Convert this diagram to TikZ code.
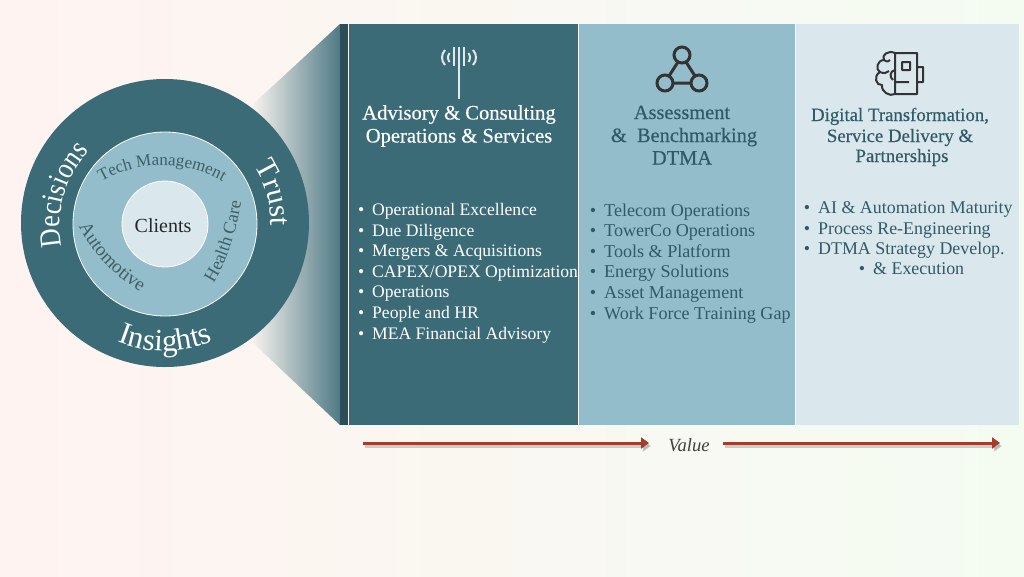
\documentclass[tikz,border=0pt]{standalone}
\usepackage{fontspec}
\setmainfont{Liberation Serif}
\newfontfamily\ringf[FakeStretch=0.87]{Liberation Serif}
\newfontfamily\ttlf[FakeBold=0.35]{Liberation Serif}
\usetikzlibrary{arrows.meta,decorations.text}
\definecolor{bgL}{HTML}{FFF3F1}
\definecolor{bgR}{HTML}{F4FCF2}
\definecolor{tealD}{HTML}{3C6B78}
\definecolor{tealDD}{HTML}{2A4F58}
\definecolor{tealM}{HTML}{93BDCB}
\definecolor{tealL}{HTML}{DAE8ED}
\definecolor{txtM}{HTML}{2F5A66}
\definecolor{txtRing}{HTML}{3F5F66}
\definecolor{icoD}{HTML}{333333}
\definecolor{rust}{HTML}{A43E2A}
\newcommand\fsz[1]{\fontsize{#1}{#1}\selectfont}
\newcommand\arctext[6]{% font, colour, text, radius, start, end
  \path[decorate,decoration={text along path,text align={center},
    text={|#1\color{#2}|#3}}]
    (ctr) ++(#5:#4pt) arc[start angle=#5,end angle=#6,radius=#4pt];}
\newcommand\curvetext[4]{% font, colour, text, path
  \path[decorate,decoration={text along path,text align={center},
    text={|#1\color{#2}|#3}}] #4;}
\newcommand\bul{\llap{\textbullet\hspace{8pt}}}
\tikzset{
  x=1pt,y=-1pt,
  ttlA/.style={anchor=base,inner sep=0pt,font=\ttlf\fsz{20.6},text=white},
  ttlB/.style={anchor=base,inner sep=0pt,font=\ttlf\fsz{20.4},text=txtM},
  ttlC/.style={anchor=base,inner sep=0pt,font=\ttlf\fsz{18.8},text=txtM},
  itemA/.style={anchor=base west,inner sep=0pt,font=\fsz{17.6},text=white},
  itemB/.style={anchor=base west,inner sep=0pt,font=\fsz{18.1},text=txtM},
  itemC/.style={anchor=base west,inner sep=0pt,font=\fsz{17.9},text=txtM},
  valarrow/.style={line width=3pt,rust,-{Triangle[length=8pt,width=11pt]}},
  valshadow/.style={line width=3pt,black!45,opacity=.4,-{Triangle[length=8pt,width=11pt]}},
  ico/.style={line width=3pt,icoD},
}
\begin{document}
\begin{tikzpicture}
\path[use as bounding box,left color=bgL,right color=bgR] (0,0) rectangle (1024,576);
% funnel
\path[left color=bgL!70!bgR,middle color=tealD!45!white,right color=tealD!90!white]
  (250,107) -- (340,24) -- (340,425) -- (250,340) -- cycle;
% panels
\fill[tealDD] (340,24) rectangle (348,425);
\fill[tealD] (349,24) rectangle (578,425);
\fill[tealM] (579,24) rectangle (795,425);
\fill[tealL] (796,24) rectangle (1019,425);
% rings
\coordinate (ctr) at (165,224);
\fill[tealD] (165,223) circle[radius=144pt];
\draw[white,fill=tealM,line width=.8pt] (ctr) circle[radius=92pt];
\draw[white,fill=tealL,line width=.8pt] (ctr) circle[radius=43pt];
\node[inner sep=0pt,font=\fsz{20},text=black!85] (clients) at (163,226) {Clients};
\arctext{\ringf\fsz{30}}{white}{Decisions}{105}{194}{134}
\arctext{\fsz{30}}{white}{Trust}{106}{38}{-6}
\arctext{\fsz{31}}{white}{Insights}{127}{243}{297}
\curvetext{\fsz{17}}{txtRing}{Tech Management}{(97,184) .. controls (137,159) and (187,159) .. (227,184)}
\curvetext{\fsz{18}}{txtRing}{Health Care}{(210,288) .. controls (226,268) and (238,226) .. (242,196)}
\curvetext{\fsz{19}}{txtRing}{Automotive}{(75,218) .. controls (85,245) and (115,280) .. (149,296)}
% antenna icon
\draw[white!85!tealD,line width=2pt] (459,47) -- (459,99);
\draw[white!85!tealD,line width=1.8pt] (454,47) -- (454,66) (464,47) -- (464,66);
\draw[white!85!tealD,line width=2pt]
  (449.5,53) .. controls (447.5,56) and (447.5,59) .. (449.5,62)
  (445,50) .. controls (441,54) and (441,61) .. (445,65)
  (468.5,53) .. controls (470.5,56) and (470.5,59) .. (468.5,62)
  (473,50) .. controls (477,54) and (477,61) .. (473,65);
% network icon
\draw[ico] (682,55) circle[radius=8pt] (665,83) circle[radius=8pt] (699,83) circle[radius=8pt];
\draw[ico] (678,62) -- (669,76) (686,62) -- (695,76) (673,83) -- (691,83);
% brain / chip icon
\draw[ico,line width=2pt,line join=round]
  (895,53) -- (917,53) -- (917,94) -- (895,94) -- cycle
  (917,67) -- (923,67) -- (923,82) -- (917,82)
  (902,62) rectangle (910,70)
  (895,82) -- (909,82)
  (895,53) .. controls (888,50) and (881,55) .. (884,60)
  .. controls (877,60) and (875,70) .. (880,72)
  .. controls (873,76) and (876,86) .. (882,85)
  .. controls (881,92) and (890,97) .. (895,94)
  (884,60) .. controls (887,62) and (889,62) .. (890,60)
  (880,72) .. controls (884,74) and (887,73) .. (889,71)
  (895,70) .. controls (890,71) and (889,77) .. (893,80);
% column titles
\node[ttlA] (a1) at (459,119.5) {Advisory \& Consulting};
\node[ttlA] (a2) at (459,142.5) {Operations \& Services};
\node[ttlB] (b1) at (682,119) {Assessment};
\node[ttlB] (b2) at (684,142) {\&\ \ Benchmarking};
\node[ttlB] (b3) at (682,164.5) {DTMA};
\node[ttlC] (c1) at (900,121) {Digital Transformation,};
\node[ttlC] (c2) at (900,142) {Service Delivery \&};
\node[ttlC] (c3) at (902,162) {Partnerships};
% lists
\node[itemA] (l1) at (372,215) {\bul Operational Excellence};
\node[itemA] (l2) at (372,236) {\bul Due Diligence};
\node[itemA] (l3) at (372,256) {\bul Mergers \& Acquisitions};
\node[itemA] (l4) at (372,277) {\bul CAPEX/OPEX Optimization};
\node[itemA] (l5) at (372,297) {\bul Operations};
\node[itemA] (l6) at (372,318) {\bul People and HR};
\node[itemA] (l7) at (372,339) {\bul MEA Financial Advisory};
\node[itemB] (m1) at (604,216) {\bul Telecom Operations};
\node[itemB] (m2) at (604,236) {\bul TowerCo Operations};
\node[itemB] (m3) at (604,257) {\bul Tools \& Platform};
\node[itemB] (m4) at (604,277) {\bul Energy Solutions};
\node[itemB] (m5) at (604,298) {\bul Asset Management};
\node[itemB] (m6) at (604,319) {\bul Work Force Training Gap};
\node[itemC] (r1) at (818,213) {\bul AI \& Automation Maturity};
\node[itemC] (r2) at (818,234) {\bul Process Re-Engineering};
\node[itemC] (r3) at (818,254) {\bul DTMA Strategy Develop.};
\node[itemC] (r4) at (873,274) {\bul \& Execution};
% value axis
\node[inner sep=0pt,font=\fsz{18.6}\itshape,text=black!75] (value) at (689,445) {Value};
\coordinate (v1s) at (363,443); \coordinate (v1e) at (649,443);
\coordinate (v2s) at (723,443); \coordinate (v2e) at (1000,443);
\draw[valshadow] ([shift={(2pt,-3pt)}]v1s) -- ([shift={(2pt,-3pt)}]v1e);
\draw[valshadow] ([shift={(2pt,-3pt)}]v2s) -- ([shift={(2pt,-3pt)}]v2e);
\draw[valarrow] (v1s) -- (v1e);
\draw[valarrow] (v2s) -- (v2e);
\end{tikzpicture}
\end{document}
